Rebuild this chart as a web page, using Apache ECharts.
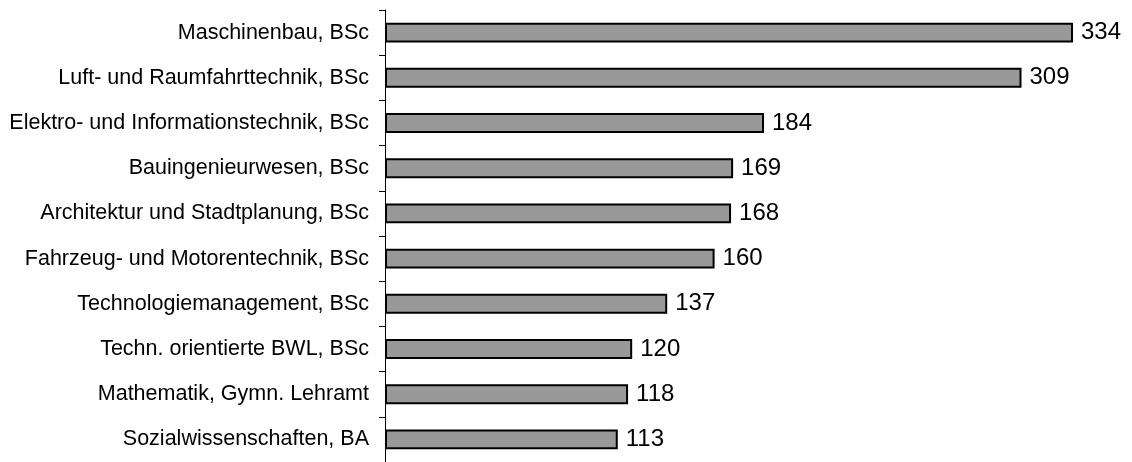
<!DOCTYPE html>
<html>
<head>
<meta charset="utf-8">
<script src="https://cdn.jsdelivr.net/npm/echarts@6/dist/echarts.min.js"></script>
<style>
html, body { margin: 0; padding: 0; background: #fff; }
#main { width: 1132px; height: 462px; }
</style>
</head>
<body>
<div id="main"></div>
<script>
// Studiengänge (von unten nach oben, wie die Kategorieachse sie zeichnet)
var studiengaenge = [
    'Sozialwissenschaften, BA',
    'Mathematik, Gymn. Lehramt',
    'Techn. orientierte BWL, BSc',
    'Technologiemanagement, BSc',
    'Fahrzeug- und Motorentechnik, BSc',
    'Architektur und Stadtplanung, BSc',
    'Bauingenieurwesen, BSc',
    'Elektro- und Informationstechnik, BSc',
    'Luft- und Raumfahrttechnik, BSc',
    'Maschinenbau, BSc'
];
var anzahl = [113, 118, 120, 137, 160, 168, 169, 184, 309, 334];

var chart = echarts.init(document.getElementById('main'));

var option = {
    backgroundColor: '#ffffff',
    animation: false,
    grid: {
        left: 385,
        right: 59,
        top: 10,
        bottom: -3
    },
    xAxis: {
        type: 'value',
        min: 0,
        max: 334,
        show: false
    },
    yAxis: {
        type: 'category',
        data: studiengaenge,
        boundaryGap: true,
        axisLine: {
            show: true,
            lineStyle: { color: '#000', width: 1 }
        },
        axisTick: {
            show: true,
            length: 6,
            lineStyle: { color: '#000' }
        },
        axisLabel: {
            color: '#000',
            fontFamily: 'Liberation Sans, Arial, sans-serif',
            fontSize: 21.5,
            margin: 16
        },
        splitLine: { show: false }
    },
    series: [
        {
            type: 'bar',
            data: anzahl,
            barCategoryGap: '56%',
            itemStyle: {
                color: '#999999',
                borderColor: '#000',
                borderWidth: 2
            },
            label: {
                show: true,
                position: 'right',
                distance: 8,
                color: '#000',
                fontFamily: 'Liberation Sans, Arial, sans-serif',
                fontSize: 24
            }
        }
    ]
};

chart.setOption(option);
window.addEventListener('resize', function () {
    chart.resize();
});
</script>
</body>
</html>
